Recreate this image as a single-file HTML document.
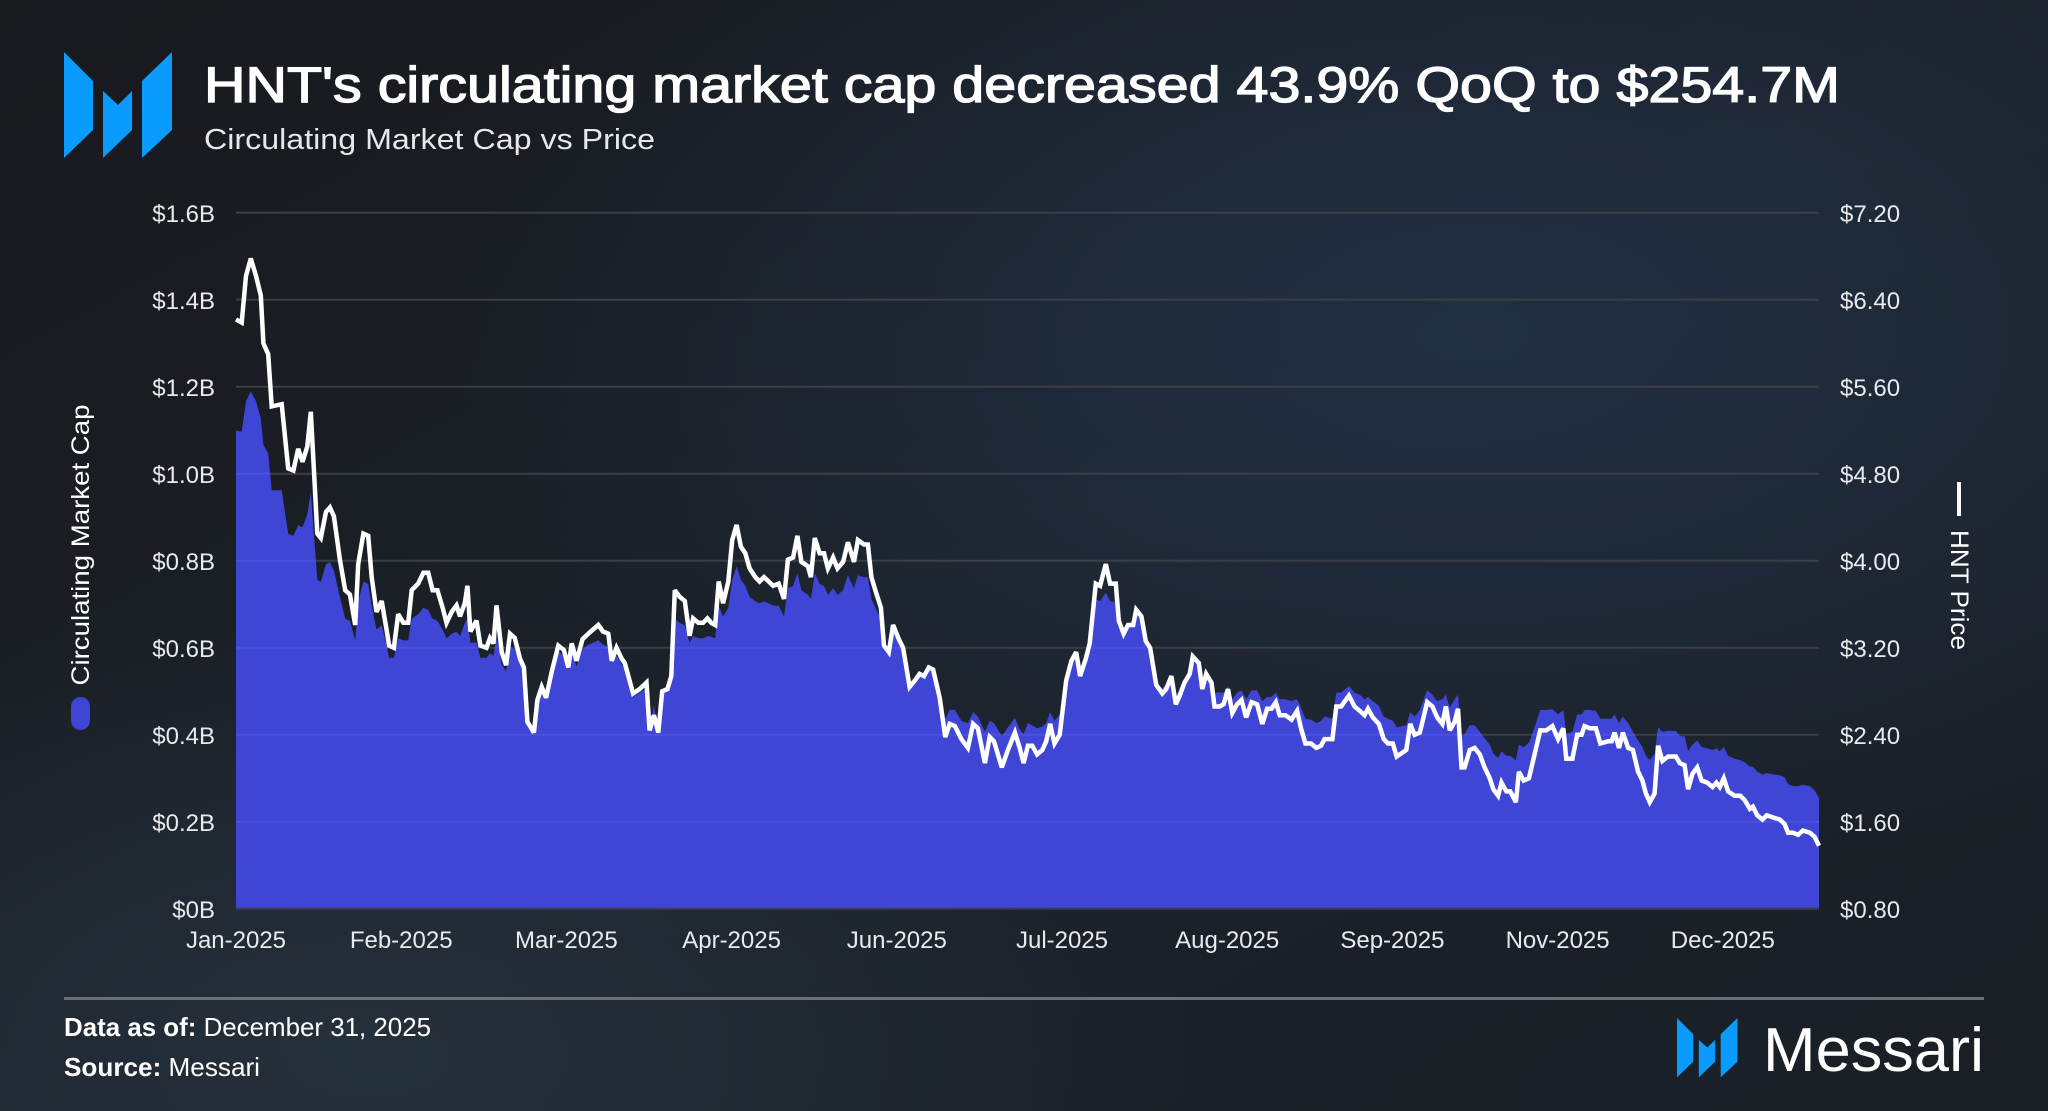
<!DOCTYPE html>
<html><head><meta charset="utf-8"><style>
html,body{margin:0;padding:0;}
body{width:2048px;height:1111px;overflow:hidden;background:#1b1f25;font-family:"Liberation Sans",sans-serif;}
svg{display:block}
</style></head><body>
<svg id="chart" width="2048" height="1111" viewBox="0 0 2048 1111" xmlns="http://www.w3.org/2000/svg">
<defs>
<linearGradient id="bg" x1="0" y1="0" x2="1" y2="1">
<stop offset="0" stop-color="#17191d"/><stop offset="0.5" stop-color="#1c222a"/><stop offset="1" stop-color="#1a1f26"/>
</linearGradient>
<radialGradient id="glow1" cx="0.72" cy="0.3" r="0.5"><stop offset="0" stop-color="#223146" stop-opacity="0.9"/><stop offset="1" stop-color="#223146" stop-opacity="0"/></radialGradient>
<radialGradient id="glow2" cx="0.18" cy="0.95" r="0.4"><stop offset="0" stop-color="#26323d" stop-opacity="0.9"/><stop offset="1" stop-color="#26323d" stop-opacity="0"/></radialGradient>
<clipPath id="areaClip"><path id="areaClipPath" d=""/></clipPath>
</defs>
<rect x="0" y="0" width="2048" height="1111" fill="url(#bg)"/>
<rect x="0" y="0" width="2048" height="1111" fill="url(#glow1)"/>
<rect x="0" y="0" width="2048" height="1111" fill="url(#glow2)"/>
<g fill="#0a9bff">
<polygon points="64,52 93,81 93,130 64,158"/>
<polygon points="103,91 118,105 132,91 132,130 103,158"/>
<polygon points="172,52 172,130 142,158 142,81"/>
</g>
<text x="204" y="102" font-size="50" fill="#ffffff" stroke="#ffffff" stroke-width="1.3" textLength="1636" lengthAdjust="spacingAndGlyphs">HNT's circulating market cap decreased 43.9% QoQ to $254.7M</text>
<text x="204" y="149" font-size="29" fill="#e6e8eb" textLength="451" lengthAdjust="spacingAndGlyphs">Circulating Market Cap vs Price</text>
<g id="grid"></g>
<g id="plot"></g>
<g id="gridOver" clip-path="url(#areaClip)"></g>
<g id="leftTicks"></g>
<g id="rightTicks"></g>
<g id="xTicks"></g>
<text transform="translate(89,545) rotate(-90)" text-anchor="middle" font-size="25" fill="#ffffff" textLength="281" lengthAdjust="spacingAndGlyphs">Circulating Market Cap</text>
<rect x="71" y="697" width="19" height="33" rx="9.5" fill="#3f45d4"/>
<rect x="1957" y="482" width="4" height="34" fill="#ffffff"/>
<text transform="translate(1951,590) rotate(90)" text-anchor="middle" font-size="25" fill="#ffffff" textLength="120" lengthAdjust="spacingAndGlyphs">HNT Price</text>
<rect x="64" y="997" width="1920" height="3" fill="#6b7077"/>
<text x="64" y="1036" font-size="26" fill="#ffffff" textLength="367" lengthAdjust="spacingAndGlyphs"><tspan font-weight="bold">Data as of:</tspan> December 31, 2025</text>
<text x="64" y="1076" font-size="26" fill="#ffffff" textLength="196" lengthAdjust="spacingAndGlyphs"><tspan font-weight="bold">Source:</tspan> Messari</text>
<g fill="#0a9bff" transform="translate(1677,1018) scale(0.56)">
<polygon points="0,0 29,29 29,78 0,106"/>
<polygon points="39,39 54,53 68,39 68,78 39,106"/>
<polygon points="108,0 108,78 78,106 78,29"/>
</g>
<text x="1763" y="1071" font-size="62" fill="#ffffff" textLength="221" lengthAdjust="spacingAndGlyphs">Messari</text>
</svg>
<script>
const days=[0,1.3,2.3,3.4,4.6,5.7,6.3,7.4,8.2,10.5,12.0,13.2,14.3,15.3,16.4,17.2,18.7,19.5,20.7,21.6,22.5,23.9,25.1,26.2,27.4,28.1,29.3,30.4,31.2,32.3,33.5,34.6,35.2,36.3,37.3,38.5,39.6,40.4,41.9,43.1,44.2,45.2,46.3,47.5,48.4,49.6,50.7,51.5,52.6,53.2,53.9,55.3,56.2,57.6,58.4,59.2,59.9,61.1,62.1,63.0,64.1,65.3,66.2,67.0,68.5,69.3,70.3,71.3,72.6,74.1,75.4,76.4,77.2,78.3,79.7,81.0,83.3,84.4,85.6,86.4,87.5,88.7,89.4,
91.3,92.8,94.4,95.1,96.1,97.1,98.0,99.2,100.1,100.9,102.0,103.2,104.3,105.1,106.3,107.4,108.4,109.3,110.2,111.0,112.0,113.2,114.1,115.1,116.1,117.1,118.1,119.4,120.4,121.4,122.5,123.5,124.8,126.0,126.9,128.1,129.1,130.0,131.5,132.2,133.1,134.2,135.2,136.1,137.3,138.3,139.6,140.7,142.1,143.0,144.4,145.3,146.1,147.0,148.3,149.0,150.1,151.1,152.4,153.4,154.9,156.1,157.2,158.2,159.3,160.3,161.8,163.1,164.1,165.3,166.8,168.3,169.5,170.6,172.2,173.3,174.3,176.1,177.5,179.1,
180.2,181.1,182.1,183.1,184.2,185.4,186.3,187.2,188.2,189.4,190.9,192.1,193.2,194.1,195.4,196.3,197.7,198.7,200.0,201.0,202.3,203.0,204.1,205.1,206.3,207.0,208.2,209.2,210.2,211.6,213.0,213.9,215.1,216.1,217.0,218.1,219.3,220.0,221.4,222.2,223.1,224.3,225.0,226.2,227.1,228.1,229.1,230.2,231.2,232.3,233.5,234.8,236.0,237.1,238.1,239.1,240.0,241.3,242.7,244.0,244.9,245.9,247.2,248.4,249.5,250.3,252.1,253.0,254.1,255.9,257.2,258.4,259.5,260.3,261.4,262.8,263.9,264.9,266.0,266.9,269.1,270.0,271.0,
272.2,273.9,275.1,276.2,277.4,278.2,279.1,280.2,281.0,281.8,282.5,283.7,284.8,286.0,287.1,288.3,289.1,290.2,291.0,292.1,293.0,294.3,295.0,296.1,297.3,298.6,299.9,301.3,302.7,304.0,305.2,305.9,307.3,308.4,309.4,310.1,311.3,312.7,313.7,315.5,316.3,317.0,318.0,318.9,320.1,321.2,322.4,323.4,324.2,325.1,326.2,327.0,328.0,329.3,331.1,332.0,333.1,333.9,334.9,336.0,337.0,338.3,339.5,340.4,341.2,342.1,343.1,344.6,345.9,346.9,348.1,348.8,349.8,351.0,352.0,353.4,355.0,356.1,356.9,358.0,359.2,360.3,361.9,363.0,364];
const price=[6.22,6.19,6.62,6.78,6.62,6.44,6.00,5.90,5.42,5.44,4.85,4.83,5.03,4.91,5.05,5.37,4.25,4.21,4.45,4.49,4.41,4.01,3.73,3.69,3.41,3.97,4.25,4.23,3.85,3.53,3.63,3.37,3.22,3.20,3.51,3.43,3.43,3.73,3.79,3.89,3.89,3.73,3.73,3.57,3.43,3.53,3.59,3.49,3.61,3.77,3.35,3.45,3.22,3.20,3.29,3.24,3.59,3.16,3.04,3.33,3.29,3.10,3.02,2.52,2.42,2.72,2.84,2.74,2.98,3.22,3.18,3.02,3.24,3.08,3.28,3.33,3.41,3.35,3.33,3.08,3.20,3.10,3.06,
2.78,2.82,2.88,2.44,2.58,2.42,2.80,2.82,2.94,3.73,3.67,3.63,3.31,3.47,3.43,3.43,3.47,3.43,3.41,3.81,3.61,3.81,4.19,4.33,4.13,4.07,3.93,3.85,3.81,3.85,3.81,3.77,3.79,3.65,4.01,4.03,4.23,3.99,3.95,3.85,4.21,4.07,4.07,3.93,4.03,3.93,3.99,4.17,3.99,4.19,4.15,4.15,3.85,3.73,3.57,3.22,3.16,3.41,3.28,3.20,2.84,2.90,2.96,2.94,3.02,3.00,2.74,2.38,2.50,2.48,2.36,2.28,2.50,2.46,2.14,2.38,2.34,2.10,2.26,2.42,
2.28,2.14,2.30,2.30,2.22,2.26,2.34,2.50,2.32,2.40,2.90,3.08,3.16,2.94,3.10,3.24,3.79,3.77,3.97,3.79,3.79,3.45,3.33,3.41,3.41,3.55,3.49,3.26,3.20,2.86,2.78,2.82,2.94,2.68,2.76,2.88,2.96,3.12,3.06,2.82,2.96,2.88,2.66,2.66,2.68,2.82,2.60,2.68,2.72,2.56,2.70,2.68,2.50,2.64,2.64,2.70,2.58,2.58,2.54,2.62,2.46,2.32,2.32,2.28,2.30,2.36,2.36,2.66,2.66,2.76,2.66,2.62,2.58,2.64,2.56,2.50,2.36,2.32,2.32,2.20,2.26,2.50,2.40,
2.42,2.70,2.66,2.56,2.50,2.66,2.44,2.52,2.64,2.10,2.10,2.26,2.28,2.22,2.10,2.00,1.90,1.84,1.96,1.88,1.88,1.78,2.06,1.98,2.00,2.22,2.44,2.44,2.48,2.36,2.46,2.18,2.18,2.40,2.40,2.48,2.46,2.46,2.32,2.34,2.34,2.42,2.28,2.42,2.28,2.26,2.06,1.98,1.86,1.78,1.86,2.30,2.16,2.20,2.20,2.14,2.12,1.90,2.04,2.10,1.98,1.96,1.92,1.96,1.92,2.00,1.88,1.84,1.84,1.80,1.72,1.74,1.66,1.62,1.66,1.64,1.62,1.58,1.50,1.50,1.48,1.52,1.50,1.46,1.38];
const mcap=[1099,1097,1167,1189,1167,1127,1067,1047,962,962,862,857,882,877,907,957,757,752,792,797,777,717,667,662,617,707,752,747,697,642,652,607,577,577,622,617,617,667,677,692,687,667,662,642,622,632,637,627,657,667,612,612,577,577,587,582,627,562,547,602,597,567,552,432,407,482,512,487,552,592,582,552,592,557,597,607,617,607,602,567,582,562,557,
487,497,507,417,467,407,502,507,537,667,657,652,612,627,622,622,627,625,622,697,672,692,757,787,757,742,717,707,702,707,702,697,697,672,737,742,772,732,722,712,772,747,742,722,737,722,732,767,737,767,762,762,712,692,667,607,592,657,622,602,512,527,542,537,557,552,487,437,457,457,432,427,452,442,407,432,427,397,417,439,
412,402,427,422,415,419,427,452,432,447,527,572,592,537,577,612,712,707,727,707,705,662,637,657,657,687,677,617,602,522,507,517,537,487,507,527,542,582,567,522,542,527,497,497,497,512,482,497,502,482,502,502,477,487,487,497,482,482,477,482,462,437,435,427,432,442,437,497,497,512,497,492,482,487,477,467,442,437,432,417,422,452,442,
457,502,492,477,482,492,462,482,492,397,402,422,422,407,392,377,357,347,362,352,352,342,377,372,382,417,457,457,459,447,457,402,407,447,447,457,457,455,437,437,437,447,427,442,427,407,387,372,352,342,357,417,407,409,409,397,397,362,377,387,372,369,365,369,362,372,352,345,342,337,327,327,315,309,312,309,307,302,287,282,282,285,282,272,254.7];
const capTicks=[0,200,400,600,800,1000,1200,1400,1600];
const capTickLabels=['$0B','$0.2B','$0.4B','$0.6B','$0.8B','$1.0B','$1.2B','$1.4B','$1.6B'];
const priceTickLabels=['$0.80','$1.60','$2.40','$3.20','$4.00','$4.80','$5.60','$6.40','$7.20'];
const xLabels=['Jan-2025','Feb-2025','Mar-2025','Apr-2025','Jun-2025','Jul-2025','Aug-2025','Sep-2025','Nov-2025','Dec-2025'];

const NS='http://www.w3.org/2000/svg';
const X0=236,X1=1819,Y0=908.8,YT=212.8;
const dayMax=364,capMax=1600,pMin=0.8,pMax=7.2;
function xS(d){return X0+d/dayMax*(X1-X0);}
function yCap(v){return Y0-v/capMax*(Y0-YT);}
function yPrice(v){return Y0-(v-pMin)/(pMax-pMin)*(Y0-YT);}
function mk(tag,attrs,parent){const e=document.createElementNS(NS,tag);for(const k in attrs)e.setAttribute(k,attrs[k]);parent.appendChild(e);return e;}

const grid=document.getElementById('grid'),gridOver=document.getElementById('gridOver');
const lt=document.getElementById('leftTicks'),rt=document.getElementById('rightTicks'),xt=document.getElementById('xTicks');
capTicks.forEach((v,i)=>{
  const y=yCap(v);
  if(i>0){
    const g=mk('line',{x1:X0,x2:X1,y1:y,y2:y,stroke:'#3b3f45','stroke-width':2},grid);
    
    
    const o=mk('line',{x1:X0,x2:X1,y1:y,y2:y,stroke:'#6f78ff','stroke-opacity':0.25,'stroke-width':2},gridOver);
    
    
  }
  const t=mk('text',{x:215,y:y+9,'text-anchor':'end','font-size':24,fill:'#e8eaed'},lt);
  t.textContent=capTickLabels[i];
  
  
  const r=mk('text',{x:1840,y:y+9,'font-size':24,fill:'#e8eaed'},rt);
  r.textContent=priceTickLabels[i];
  
  
});
xLabels.forEach((lab,i)=>{
  const t=mk('text',{x:X0+i*165.2,y:948,'text-anchor':'middle','font-size':24,fill:'#e8eaed'},xt);
  t.textContent=lab;
  
  
});
const plot=document.getElementById('plot');
let a='M'+xS(days[0])+','+Y0;
days.forEach((d,i)=>{a+=' L'+xS(d).toFixed(1)+','+yCap(mcap[i]).toFixed(1);});
a+=' L'+xS(days[days.length-1])+','+Y0+' Z';
const area=mk('path',{d:a,fill:'#3f45d4'},plot);


document.getElementById('areaClipPath').setAttribute('d',a);
const base=mk('line',{x1:X0,x2:X1,y1:Y0,y2:Y0,stroke:'#3a3f4a','stroke-width':2},plot);


let l='';
days.forEach((d,i)=>{l+=(i?' L':'M')+xS(d).toFixed(1)+','+yPrice(price[i]).toFixed(1);});
const line=mk('path',{d:l,fill:'none',stroke:'#ffffff','stroke-width':4.5,'stroke-linejoin':'miter','stroke-miterlimit':3},plot);


plot.insertBefore(gridOver,line);
</script>
</body></html>
